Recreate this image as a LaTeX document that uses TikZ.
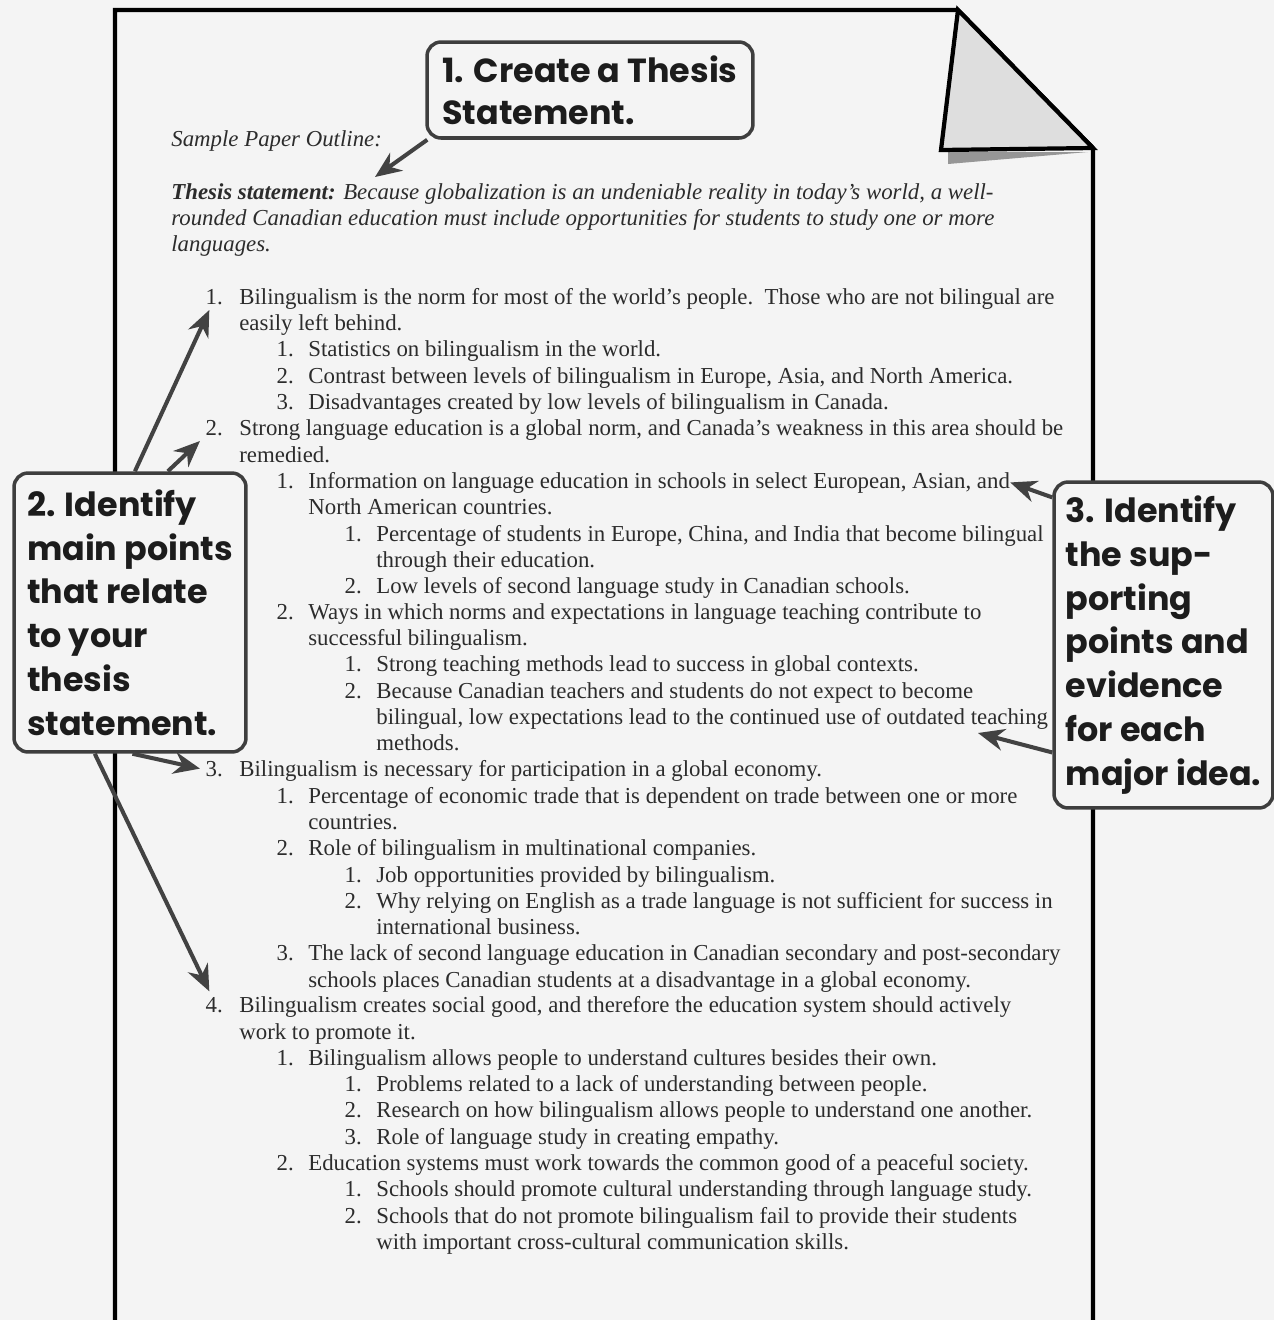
\documentclass[tikz,border=0pt]{standalone}
\usepackage{fontspec}
\setmainfont{Liberation Serif}
\newfontfamily\calloutfont{Poppins}
\usetikzlibrary{arrows.meta}
\definecolor{paper}{RGB}{244,244,244}
\definecolor{ink}{RGB}{44,44,44}
\definecolor{callink}{RGB}{28,28,28}
\definecolor{boxline}{RGB}{62,62,62}
\definecolor{pointcol}{RGB}{66,66,66}
\definecolor{foldgray}{RGB}{222,222,222}
\definecolor{shadowgray}{RGB}{150,150,150}

\begin{document}
\begin{tikzpicture}[
	x=0.02cm, y=-0.02cm,
	body/.style={anchor=base west, inner sep=0pt, text=ink, font=\fontsize{13}{15}\selectfont},
	num/.style={anchor=base west, inner sep=3pt, text=ink, font=\fontsize{13}{15}\selectfont},
	callout/.style={draw=boxline, line width=2pt, rounded corners=8pt, fill=paper, text=callink, align=left, font=\calloutfont\bfseries\fontsize{19}{24.9}\selectfont},
	pointer/.style={draw=pointcol, line width=2.3pt, -{Stealth[length=15pt, width=12.5pt]}},
	page/.style={draw=black, line width=2.4pt}
	]
	
	% Hintergrund und Blatt
	\useasboundingbox (0,0) rectangle (1274,1320);
	\fill[paper] (0,0) rectangle (1274,1320);
	\draw[page] (115,1330) -- (115,10) -- (958,10) -- (1093,148) -- (1093,1330);
	\fill[shadowgray] (948,152) -- (1088,152) -- (948,164) -- cycle;
	\filldraw[page, fill=foldgray] (958,10) -- (941,150) -- (1093,148) -- cycle;
	
	% Kopf und These
	\node[body, font=\itshape\fontsize{13}{15}\selectfont] (head) at (171,146) {Sample Paper Outline:};
	\node[body, font=\itshape\fontsize{13}{15}\selectfont] (th1) at (171,199) {\textbf{Thesis statement:} Because globalization is an undeniable reality in today's world, a well-};
	\node[body, font=\itshape\fontsize{13}{15}\selectfont] (th2) at (171,225) {rounded Canadian education must include opportunities for students to study one or more};
	\node[body, font=\itshape\fontsize{13}{15}\selectfont] (th3) at (171,251) {languages.};
	
	% Punkt 1
	\node[num] (n1) at (200,304) {1.};
	\node[body] (t1) at (239,304) {Bilingualism is the norm for most of the world's people.\ \ Those who are not bilingual are};
	\node[body] (t1b) at (239,330) {easily left behind.};
	\node[num] (n1a) at (271,356) {1.};
	\node[body] (t1a) at (308,356) {Statistics on bilingualism in the world.};
	\node[num] (n1b) at (271,383) {2.};
	\node[body] (t1bb) at (308,383) {Contrast between levels of bilingualism in Europe, Asia, and North America.};
	\node[num] (n1c) at (271,409) {3.};
	\node[body] (t1c) at (308,409) {Disadvantages created by low levels of bilingualism in Canada.};
	
	% Punkt 2
	\node[num] (n2) at (200,435) {2.};
	\node[body] (t2) at (239,435) {Strong language education is a global norm, and Canada's weakness in this area should be};
	\node[body] (t2b) at (239,462) {remedied.};
	\node[num] (n2a) at (271,488) {1.};
	\node[body] (t2a) at (308,488) {Information on language education in schools in select European, Asian, and};
	\node[body] (t2ab) at (308,514) {North American countries.};
	\node[num] (n2a1) at (339,541) {1.};
	\node[body] (t2a1) at (376,541) {Percentage of students in Europe, China, and India that become bilingual};
	\node[body] (t2a1b) at (376,567) {through their education.};
	\node[num] (n2a2) at (339,593) {2.};
	\node[body] (t2a2) at (376,593) {Low levels of second language study in Canadian schools.};
	\node[num] (n2b) at (271,619) {2.};
	\node[body] (t2bb) at (308,619) {Ways in which norms and expectations in language teaching contribute to};
	\node[body] (t2bc) at (308,645) {successful bilingualism.};
	\node[num] (n2b1) at (339,671) {1.};
	\node[body] (t2b1) at (376,671) {Strong teaching methods lead to success in global contexts.};
	\node[num] (n2b2) at (339,698) {2.};
	\node[body] (t2b2) at (376,698) {Because Canadian teachers and students do not expect to become};
	\node[body] (t2b2b) at (376,724) {bilingual, low expectations lead to the continued use of outdated teaching};
	\node[body] (t2b2c) at (376,750) {methods.};
	
	% Punkt 3
	\node[num] (n3) at (200,776) {3.};
	\node[body] (t3) at (239,776) {Bilingualism is necessary for participation in a global economy.};
	\node[num] (n3a) at (271,803) {1.};
	\node[body] (t3a) at (308,803) {Percentage of economic trade that is dependent on trade between one or more};
	\node[body] (t3ab) at (308,829) {countries.};
	\node[num] (n3b) at (271,855) {2.};
	\node[body] (t3b) at (308,855) {Role of bilingualism in multinational companies.};
	\node[num] (n3b1) at (339,882) {1.};
	\node[body] (t3b1) at (376,882) {Job opportunities provided by bilingualism.};
	\node[num] (n3b2) at (339,908) {2.};
	\node[body] (t3b2) at (376,908) {Why relying on English as a trade language is not sufficient for success in};
	\node[body] (t3b2b) at (376,934) {international business.};
	\node[num] (n3c) at (271,960) {3.};
	\node[body] (t3c) at (308,960) {The lack of second language education in Canadian secondary and post-secondary};
	\node[body] (t3cb) at (308,987) {schools places Canadian students at a disadvantage in a global economy.};
	
	% Punkt 4
	\node[num] (n4) at (200,1012) {4.};
	\node[body] (t4) at (239,1012) {Bilingualism creates social good, and therefore the education system should actively};
	\node[body] (t4b) at (239,1039) {work to promote it.};
	\node[num] (n4a) at (271,1065) {1.};
	\node[body] (t4a) at (308,1065) {Bilingualism allows people to understand cultures besides their own.};
	\node[num] (n4a1) at (339,1091) {1.};
	\node[body] (t4a1) at (376,1091) {Problems related to a lack of understanding between people.};
	\node[num] (n4a2) at (339,1117) {2.};
	\node[body] (t4a2) at (376,1117) {Research on how bilingualism allows people to understand one another.};
	\node[num] (n4a3) at (339,1144) {3.};
	\node[body] (t4a3) at (376,1144) {Role of language study in creating empathy.};
	\node[num] (n4b) at (271,1170) {2.};
	\node[body] (t4bb) at (308,1170) {Education systems must work towards the common good of a peaceful society.};
	\node[num] (n4b1) at (339,1196) {1.};
	\node[body] (t4b1) at (376,1196) {Schools should promote cultural understanding through language study.};
	\node[num] (n4b2) at (339,1223) {2.};
	\node[body] (t4b2) at (376,1223) {Schools that do not promote bilingualism fail to provide their students};
	\node[body] (t4b2b) at (376,1249) {with important cross-cultural communication skills.};
	
	% Hinweis-Boxen
	\node[callout, minimum width=6.52cm, minimum height=1.92cm, font=\calloutfont\bfseries\fontsize{19}{24}\selectfont] (thesisbox) at (590,90) {1. Create a Thesis\\Statement.};
	\node[callout, minimum width=4.64cm, minimum height=5.58cm] (identify) at (130,612.5) {2. Identify\\main points\\that relate\\to your\\thesis\\statement.};
	\node[callout, minimum width=4.38cm, minimum height=6.52cm] (supporting) at (1163.5,645) {3. Identify\\the sup-\\porting\\points and\\evidence\\for each\\major idea.};
	
	% Pfeile
	\coordinate (outlinetip) at (375,177);
	\coordinate (teachtip) at (978,733);
	\draw[pointer] (thesisbox.197) -- (outlinetip);
	\draw[pointer] (identify.88) -- (n1.250);
	\draw[pointer] (identify.75) -- (n2.south west);
	\draw[pointer] (identify.-89) -- (n3.west);
	\draw[pointer] (identify.-104) -- (n4.110);
	\draw[pointer] (supporting.127) -- (t2a.east);
	\draw[pointer] (supporting.224) -- (teachtip);
\end{tikzpicture}
\end{document}
